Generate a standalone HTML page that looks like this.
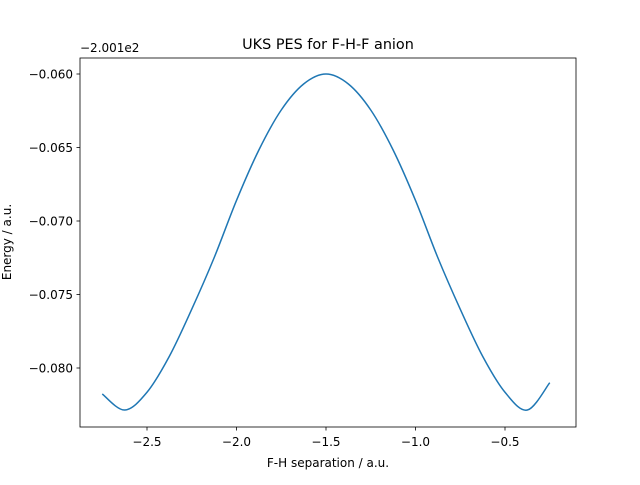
<!DOCTYPE html>
<html><head><meta charset="utf-8"><style>
body{margin:0;background:#fff;}
svg text{font-family:"DejaVu Sans","Liberation Sans",sans-serif;fill:#000;}
</style></head><body>
<svg id="chart" width="640" height="480" viewBox="0 0 640 480" xmlns="http://www.w3.org/2000/svg">
<rect x="0" y="0" width="640" height="480" fill="#fff"/>
<text x="328" y="49" font-size="14.4" text-anchor="middle">UKS PES for F-H-F anion</text>
<text x="80" y="52" font-size="12">−2.001e2</text>
<g id="ticks"></g>
<path id="curve" fill="none" stroke="#1f77b4" stroke-width="1.5"/>
<rect x="80" y="58" width="496" height="369" fill="none" stroke="#000" stroke-width="0.8"/>
<text x="328" y="467" font-size="12" text-anchor="middle">F-H separation / a.u.</text>
<text transform="translate(11,242) rotate(-90)" font-size="12" text-anchor="middle">Energy / a.u.</text>
</svg>
<script>
const xValues=[-2.75,-2.625,-2.5,-2.375,-2.25,-2.125,-2.0,-1.875,-1.75,-1.625,-1.5,-1.375,-1.25,-1.125,-1.0,-0.875,-0.75,-0.625,-0.5,-0.375,-0.25];
const energies=[-0.08177,-0.08286,-0.08165,-0.07920,-0.07600,-0.07250,-0.06860,-0.06517,-0.06245,-0.06068,-0.06000,-0.06068,-0.06245,-0.06517,-0.06860,-0.07250,-0.07600,-0.07920,-0.08165,-0.08286,-0.08100];
const xTicks=[-2.5,-2.0,-1.5,-1.0,-0.5];
const xTickLabels=["−2.5","−2.0","−1.5","−1.0","−0.5"];
const yTicks=[-0.060,-0.065,-0.070,-0.075,-0.080];
const yTickLabels=["−0.060","−0.065","−0.070","−0.075","−0.080"];
const sx=v=>326+(v+1.5)*179;
const sy=v=>74-(v+0.060)*14700;
const NS="http://www.w3.org/2000/svg";
const g=document.getElementById('ticks');
xTicks.forEach((t,i)=>{
  const l=document.createElementNS(NS,'line');
  l.setAttribute('x1',sx(t));l.setAttribute('x2',sx(t));l.setAttribute('y1',427);l.setAttribute('y2',430.5);
  l.setAttribute('stroke','#000');l.setAttribute('stroke-width','0.8');
  
  
  g.appendChild(l);
  const tx=document.createElementNS(NS,'text');
  tx.setAttribute('x',sx(t));tx.setAttribute('y',446);tx.setAttribute('font-size','12');tx.setAttribute('text-anchor','middle');
  tx.textContent=xTickLabels[i];
  
  
  g.appendChild(tx);
});
yTicks.forEach((t,i)=>{
  const l=document.createElementNS(NS,'line');
  l.setAttribute('x1',76.5);l.setAttribute('x2',80);l.setAttribute('y1',sy(t));l.setAttribute('y2',sy(t));
  l.setAttribute('stroke','#000');l.setAttribute('stroke-width','0.8');
  
  
  g.appendChild(l);
  const tx=document.createElementNS(NS,'text');
  tx.setAttribute('x',73);tx.setAttribute('y',sy(t)+4.5);tx.setAttribute('font-size','12');tx.setAttribute('text-anchor','end');
  tx.textContent=yTickLabels[i];
  
  
  g.appendChild(tx);
});
const pts=xValues.map((x,i)=>[sx(x),sy(energies[i])]);
let d='M'+pts[0][0]+','+pts[0][1];
for(let i=0;i<pts.length-1;i++){
  const p0=pts[Math.max(0,i-1)],p1=pts[i],p2=pts[i+1],p3=pts[Math.min(pts.length-1,i+2)];
  const c1=[p1[0]+(p2[0]-p0[0])/6,p1[1]+(p2[1]-p0[1])/6];
  const c2=[p2[0]-(p3[0]-p1[0])/6,p2[1]-(p3[1]-p1[1])/6];
  d+=' C'+c1[0]+','+c1[1]+' '+c2[0]+','+c2[1]+' '+p2[0]+','+p2[1];
}
document.getElementById('curve').setAttribute('d',d);
</script>
</body></html>
